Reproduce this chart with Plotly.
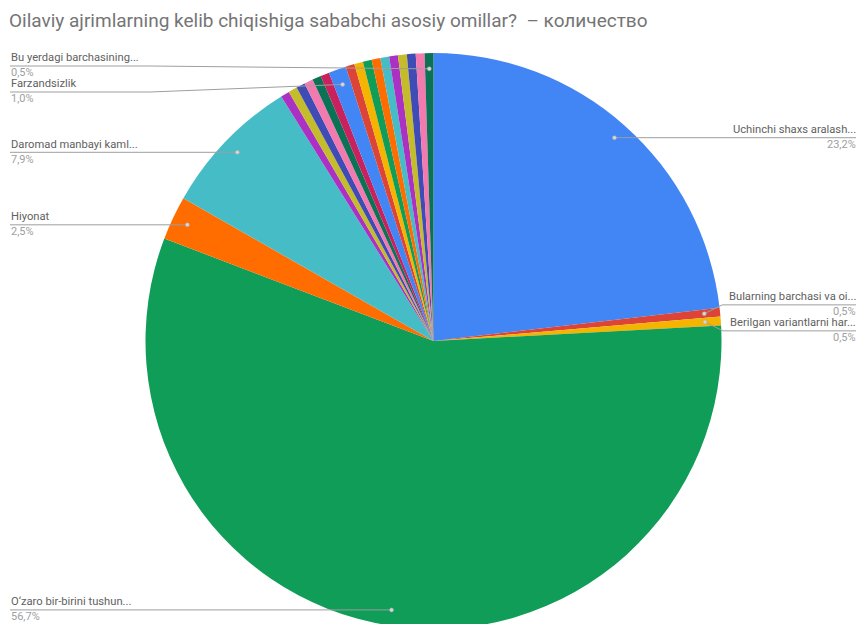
import math
import plotly.graph_objects as go

# ---------------- data ----------------
title_text = "Oilaviy ajrimlarning kelib chiqishiga sababchi asosiy omillar?  – количество"

labels = [
    "Uchinchi shaxs aralash...",
    "Bularning barchasi va oi...",
    "Berilgan variantlarni har...",
    "O‘zaro bir-birini tushun...",
    "Hiyonat",
    "Daromad manbayi kaml...",
    "Boshqa javob 1",
    "Boshqa javob 2",
    "Boshqa javob 3",
    "Boshqa javob 4",
    "Boshqa javob 5",
    "Boshqa javob 6",
    "Farzandsizlik",
    "Boshqa javob 7",
    "Boshqa javob 8",
    "Boshqa javob 9",
    "Boshqa javob 10",
    "Boshqa javob 11",
    "Boshqa javob 12",
    "Boshqa javob 13",
    "Boshqa javob 14",
    "Boshqa javob 15",
    "Bu yerdagi barchasining...",
]
counts = [47, 1, 1, 115, 5, 16,
          1, 1, 1, 1, 1, 1,
          2,
          1, 1, 1, 1, 1, 1, 1, 1, 1,
          1]
shown = [True, True, True, True, True, True,
         False, False, False, False, False, False,
         True,
         False, False, False, False, False, False, False, False, False,
         True]

palette = ["#4285F4", "#DB4437", "#F4B400", "#0F9D58", "#FF6D00", "#46BDC6",
           "#AB30C4", "#C4BC2A", "#3F4CB5", "#F27AAE", "#0B7256", "#C8215D"]

# ---------------- geometry (screen coords; body margin removed, pie runs off the bottom) ----------------
W, H = 860, 640
CX, CY, R = 433.5, 341.0, 288.0


def px(x):
    return x / W


def py(y):
    return 1 - y / H


dom_x = [px(CX - R), px(CX + R)]
dom_y = [max(0.0, py(CY + R)), min(1.0, py(CY - R))]

colors = [palette[i % len(palette)] for i in range(len(counts))]
total = float(sum(counts))

fig = go.Figure(go.Pie(
    labels=labels, values=counts, sort=False, direction="clockwise", rotation=0,
    marker=dict(colors=colors, line=dict(width=0)),
    textinfo="none", hoverinfo="label+percent+value",
    domain=dict(x=dom_x, y=dom_y), showlegend=False,
))

# anchor points
items = []
cum = 0.0
for lab, c, s in zip(labels, counts, shown):
    mid = (cum + c / 2) / total
    cum += c
    if not s:
        continue
    ang = 2 * math.pi * mid
    d = R * 0.945
    dx = CX + d * math.sin(ang)
    dy = CY - d * math.cos(ang)
    pct = f"{c / total * 100:.1f}".replace(".", ",") + "%"
    items.append(dict(label=lab, pct=pct, x=dx, y=dy, side="left" if dx < CX else "right", ly=dy))

GAP = 26
TOP_MIN = 66
for side in ("left", "right"):
    group = sorted([it for it in items if it["side"] == side], key=lambda it: it["y"])
    for _ in range(60):
        for a, b in zip(group, group[1:]):
            g = b["ly"] - a["ly"]
            if g < GAP:
                sh = (GAP - g) / 2
                a["ly"] -= sh
                b["ly"] += sh
        for it in group:
            if it["ly"] < TOP_MIN:
                it["ly"] = TOP_MIN

shapes = []
annotations = []
line_col = "#9e9e9e"
for it in items:
    ly = it["ly"]
    if it["side"] == "left":
        elbow = 150 if abs(ly - it["y"]) > 0.5 else it["x"]
        path = f"M {px(10)},{py(ly)} L {px(elbow)},{py(ly)} L {px(it['x'])},{py(it['y'])}"
        tx, anc = px(10), "left"
    else:
        elbow = it["x"] + 18 if abs(ly - it["y"]) > 0.5 else it["x"]
        path = f"M {px(it['x'])},{py(it['y'])} L {px(elbow)},{py(ly)} L {px(856)},{py(ly)}"
        tx, anc = px(857), "right"
    shapes.append(dict(type="path", xref="paper", yref="paper", path=path,
                       line=dict(color=line_col, width=1)))
    shapes.append(dict(type="circle", xref="paper", yref="paper",
                       x0=px(it["x"] - 2), x1=px(it["x"] + 2),
                       y0=py(it["y"] + 2), y1=py(it["y"] - 2),
                       fillcolor="#d6d6d6", line=dict(color="#a8a8a8", width=0.5)))
    annotations.append(dict(x=tx, y=py(ly - 0.5), xref="paper", yref="paper",
                            xanchor=anc, yanchor="bottom", showarrow=False,
                            text=it["label"], borderpad=0,
                            font=dict(family="Roboto", size=11.2, color="#616161")))
    annotations.append(dict(x=tx, y=py(ly - 0.5), xref="paper", yref="paper",
                            xanchor=anc, yanchor="top", showarrow=False,
                            text=it["pct"], borderpad=0,
                            font=dict(family="Roboto", size=11, color="#a0a0a0")))

annotations.append(dict(x=px(7), y=py(20), xref="paper", yref="paper",
                        xanchor="left", yanchor="middle", showarrow=False,
                        text=title_text,
                        font=dict(family="Roboto", size=19, color="#757575")))

fig.update_layout(
    width=W, height=H,
    margin=dict(l=0, r=0, t=0, b=0),
    paper_bgcolor="white", plot_bgcolor="white",
    shapes=shapes, annotations=annotations,
)

fig.write_html(
    "out.html",
    config={"displayModeBar": False},
    post_script=("document.body.style.margin='0';"
                 "document.body.style.overflow='hidden';"
                 "document.documentElement.style.overflow='hidden';"),
)
